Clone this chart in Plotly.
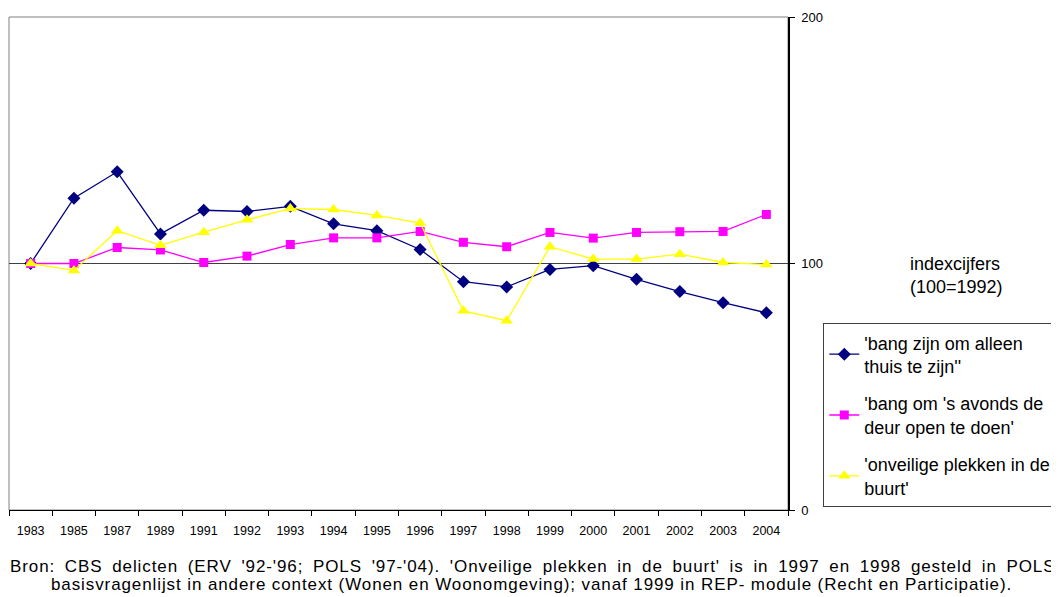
import plotly.graph_objects as go

years = ["1983", "1985", "1987", "1989", "1991", "1992", "1993", "1994", "1995",
         "1996", "1997", "1998", "1999", "2000", "2001", "2002", "2003", "2004"]

alleen_thuis = [100, 126.5, 137.2, 112.0, 121.6, 121.1, 123.2, 116.1, 113.3,
                105.7, 92.6, 90.5, 97.6, 99.1, 93.6, 88.6, 84.1, 80.0]
deur_open = [100, 100, 106.5, 105.5, 100.4, 103.0, 107.7, 110.4, 110.4,
             113.0, 108.6, 106.8, 112.6, 110.3, 112.6, 112.9, 113.0, 119.9]
onveilige_plekken = [100, 97.2, 113.3, 107.4, 112.7, 117.7, 122.3, 121.9, 119.5,
                     116.4, 80.8, 76.8, 106.8, 101.8, 101.8, 103.8, 100.4, 99.6]

names = ["'bang zijn om alleen<br>thuis te zijn''",
         "'bang om 's avonds de<br>deur open te doen'",
         "'onveilige plekken in de<br>buurt'"]

FONT = "Liberation Sans, Arial, sans-serif"

# the page body has an 8px margin; work in window pixels and convert
OFF = 8
W, H = 1059 - OFF, 597 - OFF
PX0, PX1, PY0, PY1 = 9, 788, 17, 510          # plot area in window pixels
L, R = PX0 - OFF, W - (PX1 - OFF)
T, B = PY0 - OFF, H - (PY1 - OFF)
pw, ph = PX1 - PX0, PY1 - PY0


def px(x):
    return (x - PX0) / pw


def py(y):
    return (PY1 - y) / ph


fig = go.Figure()
fig.add_trace(go.Scatter(x=years, y=alleen_thuis, name=names[0], mode="lines+markers",
                         line=dict(color="#000080", width=1.3),
                         marker=dict(symbol="diamond", size=10, color="#000080"),
                         legendgroup="a"))
fig.add_trace(go.Scatter(x=years, y=deur_open, name=names[1], mode="lines+markers",
                         line=dict(color="#FF00FF", width=1.3),
                         marker=dict(symbol="square", size=9, color="#FF00FF"),
                         legendgroup="b"))
fig.add_trace(go.Scatter(x=years, y=onveilige_plekken, name=names[2], mode="lines+markers",
                         line=dict(color="#FFFF00", width=1.3),
                         marker=dict(symbol="triangle-up", size=11, color="#FFFF00"),
                         legendgroup="c"))

fig.update_layout(
    width=W, height=H,
    margin=dict(l=L, r=R, t=T, b=B, pad=0),
    paper_bgcolor="white", plot_bgcolor="white",
    font=dict(family=FONT, color="black"),
    showlegend=True,
    legend=dict(x=px(823.3), y=py(323.3), xanchor="left", yanchor="top",
                font=dict(size=18, family=FONT, color="black"),
                bordercolor="#404040", borderwidth=1, bgcolor="white",
                traceorder="grouped", tracegroupgap=11, itemwidth=30),
    xaxis=dict(type="category", range=[-0.5, 17.5], showgrid=False,
               showline=True, linecolor="black", linewidth=1,
               ticks="outside", tickson="boundaries", ticklen=5, tickcolor="black",
               ticklabelstandoff=9,
               tickfont=dict(size=12.5, family=FONT, color="black"), fixedrange=True),
    yaxis=dict(range=[0, 200], side="right", tickvals=[0, 100, 200],
               showgrid=True, gridcolor="#404040", gridwidth=1, zeroline=False,
               showline=True, linecolor="black", linewidth=1.5,
               ticks="outside", ticklen=5, tickcolor="black", ticklabelstandoff=4,
               tickfont=dict(size=13, family=FONT, color="black"), fixedrange=True),
)

# plot-area frame (Excel style)
fig.add_shape(type="rect", xref="paper", yref="paper", x0=0, y0=0, x1=1, y1=1,
              line=dict(color="#808080", width=1), layer="below")

fig.add_annotation(text="indexcijfers<br>(100=1992)", xref="paper", yref="paper",
                   x=px(908), y=py(275), xanchor="left", yanchor="middle",
                   align="left", showarrow=False, font=dict(size=18, family=FONT, color="black"))

line1 = ("Bron: CBS delicten (ERV '92-'96; POLS '97-'04). 'Onveilige plekken in de buurt' "
         "is in 1997 en 1998 gesteld in POLS")
line2 = ("basisvragenlijst in andere context (Wonen en Woonomgeving); vanaf 1999 in "
         "REP- module (Recht en Participatie).")

fig.add_annotation(text="<span style='word-spacing:4.1px;letter-spacing:0.9px'>" + line1 + "</span>",
                   xref="paper", yref="paper",
                   x=px(8), y=py(566), xanchor="left", yanchor="middle",
                   align="left", showarrow=False, font=dict(size=17, family=FONT, color="black"))
fig.add_annotation(text="<span style='letter-spacing:0.9px'>" + line2 + "</span>",
                   xref="paper", yref="paper",
                   x=px(49), y=py(584), xanchor="left", yanchor="middle",
                   align="left", showarrow=False, font=dict(size=17, family=FONT, color="black"))

fig.write_html("out.html")
